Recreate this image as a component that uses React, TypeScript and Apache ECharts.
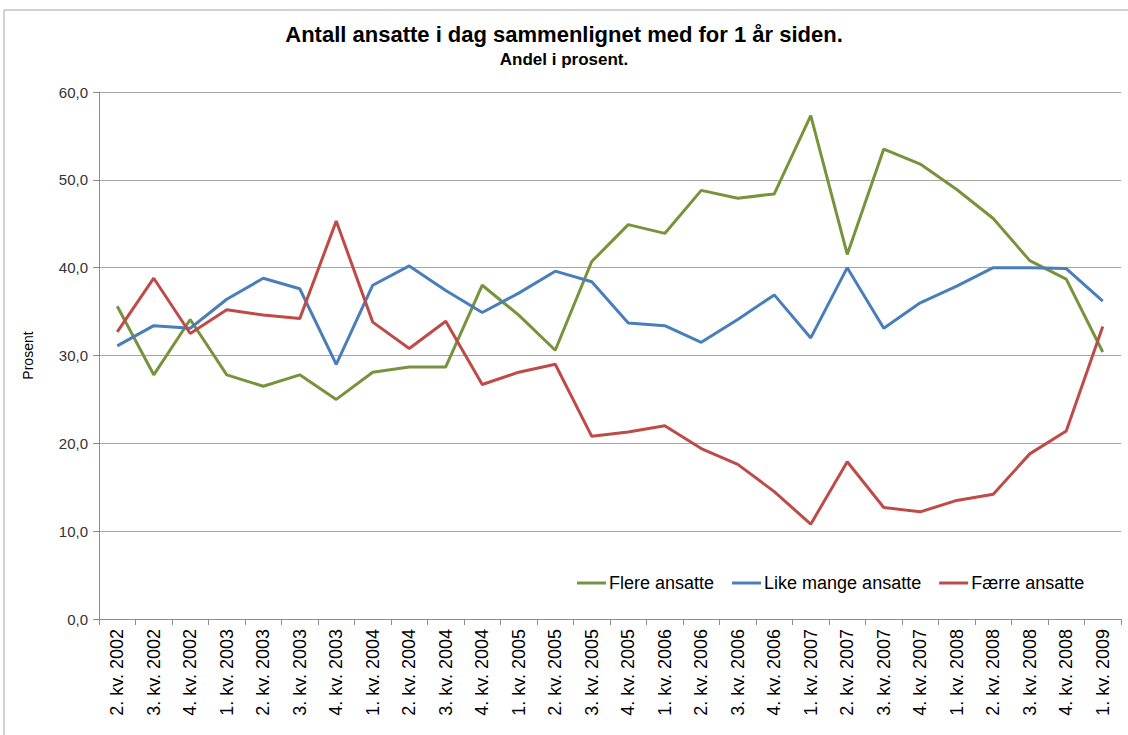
import React, { useEffect, useRef } from "react";
import * as echarts from "echarts";

const categories = [
  "2. kv. 2002", "3. kv. 2002", "4. kv. 2002",
  "1. kv. 2003", "2. kv. 2003", "3. kv. 2003", "4. kv. 2003",
  "1. kv. 2004", "2. kv. 2004", "3. kv. 2004", "4. kv. 2004",
  "1. kv. 2005", "2. kv. 2005", "3. kv. 2005", "4. kv. 2005",
  "1. kv. 2006", "2. kv. 2006", "3. kv. 2006", "4. kv. 2006",
  "1. kv. 2007", "2. kv. 2007", "3. kv. 2007", "4. kv. 2007",
  "1. kv. 2008", "2. kv. 2008", "3. kv. 2008", "4. kv. 2008",
  "1. kv. 2009",
];

const flere = [
  35.6, 27.8, 34.1, 27.8, 26.5, 27.8, 25.0, 28.1, 28.7, 28.7,
  38.0, 34.6, 30.6, 40.7, 44.9, 43.9, 48.8, 47.9, 48.4, 57.3,
  41.5, 53.5, 51.8, 48.9, 45.6, 40.8, 38.7, 30.4,
];

const likeMange = [
  31.1, 33.4, 33.1, 36.4, 38.8, 37.6, 29.0, 38.0, 40.2, 37.4,
  34.9, 37.1, 39.6, 38.4, 33.7, 33.4, 31.5, 34.1, 36.9, 32.0,
  40.0, 33.1, 36.0, 37.9, 40.0, 40.0, 39.9, 36.2,
];

const faerre = [
  32.7, 38.8, 32.5, 35.2, 34.6, 34.2, 45.3, 33.8, 30.8, 33.9,
  26.7, 28.1, 29.0, 20.8, 21.3, 22.0, 19.4, 17.6, 14.5, 10.8,
  17.9, 12.7, 12.2, 13.5, 14.2, 18.8, 21.4, 33.3,
];

const seriesNames = ["Flere ansatte", "Like mange ansatte", "Færre ansatte"];
const colors = ["#77933C", "#4A7EBB", "#BE4B48"];

export default function App() {
  const ref = useRef<HTMLDivElement>(null);

  useEffect(() => {
    if (!ref.current) return;
    const chart = echarts.init(ref.current, null, { renderer: "svg" });
    const font = "Arial, 'Liberation Sans', sans-serif";
    chart.setOption({
      animation: false,
      backgroundColor: "#ffffff",
      textStyle: { fontFamily: font },
      title: {
        text: "Antall ansatte i dag sammenlignet med for 1 år siden.",
        subtext: "Andel i prosent.",
        left: "center",
        top: 18,
        itemGap: 6,
        textStyle: { fontSize: 22, fontWeight: "bold", color: "#000", fontFamily: font },
        subtextStyle: { fontSize: 17, fontWeight: "bold", color: "#000", fontFamily: font },
      },
      graphic: [
        {
          type: "rect",
          shape: { x: 4, y: 10, width: 1140, height: 800 },
          style: { fill: "none", stroke: "#a6a6a6", lineWidth: 1 },
          silent: true,
        },
      ],
      legend: {
        left: 572,
        top: 569,
        itemWidth: 29,
        itemHeight: 3,
        itemGap: 18,
        icon: "rect",
        textStyle: { fontSize: 18, color: "#000", fontFamily: font, padding: [0, 0, 0, -2] },
        data: seriesNames,
      },
      grid: { left: 99, right: 7, top: 92, bottom: 116, containLabel: false },
      xAxis: {
        type: "category",
        data: categories,
        boundaryGap: true,
        axisLine: { lineStyle: { color: "#8c8c8c", width: 1 } },
        axisTick: { show: true, length: 6, alignWithLabel: false, lineStyle: { color: "#8c8c8c" } },
        axisLabel: { rotate: 90, fontSize: 18, color: "#000", margin: 10, interval: 0, fontFamily: font },
      },
      yAxis: {
        type: "value",
        min: 0,
        max: 60,
        interval: 10,
        name: "Prosent",
        nameLocation: "middle",
        nameGap: 64,
        nameRotate: 90,
        nameTextStyle: { fontSize: 14, color: "#000", fontFamily: font },
        axisLine: { show: true, lineStyle: { color: "#8c8c8c", width: 1 } },
        axisTick: { show: true, length: 6, lineStyle: { color: "#8c8c8c" } },
        axisLabel: {
          fontSize: 15,
          color: "#333",
          margin: 11,
          fontFamily: font,
          formatter: (v: number) => v.toFixed(1).replace(".", ","),
        },
        splitLine: { show: true, lineStyle: { color: "#a6a6a6", width: 1 } },
      },
      series: [
        { name: seriesNames[0], type: "line", data: flere, color: colors[0], symbol: "none", lineStyle: { width: 3 } },
        { name: seriesNames[1], type: "line", data: likeMange, color: colors[1], symbol: "none", lineStyle: { width: 3 } },
        { name: seriesNames[2], type: "line", data: faerre, color: colors[2], symbol: "none", lineStyle: { width: 3 } },
      ],
    });
    return () => chart.dispose();
  }, []);

  return (
    <div
      ref={ref}
      style={{ position: "fixed", left: 0, top: 0, width: 1128, height: 735 }}
    />
  );
}
